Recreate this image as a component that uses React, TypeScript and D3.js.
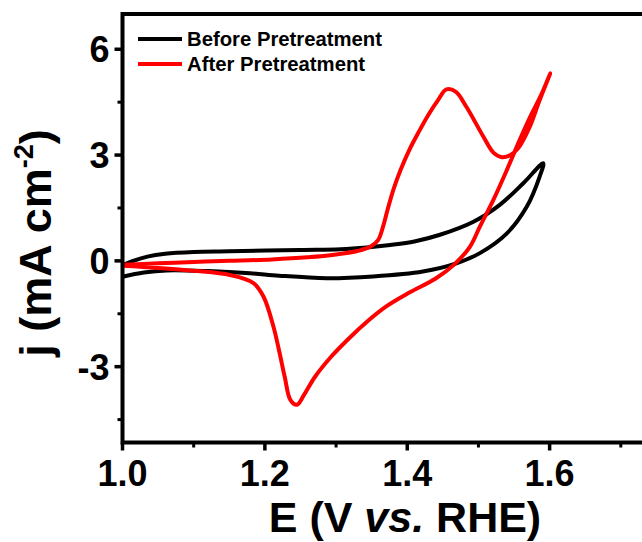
import * as d3 from "d3";

// cyclic voltammograms, forward scan then reverse scan (E in V vs RHE, j in mA cm-2)
const beforeE = [
  1.0, 1.015, 1.035, 1.06, 1.1, 1.15, 1.25, 1.306, 1.343, 1.376, 1.41, 1.446, 1.493, 1.53, 1.563, 1.591,
  1.586, 1.568, 1.54, 1.502, 1.469, 1.422, 1.352, 1.287, 1.22, 1.179, 1.12, 1.062, 1.03, 1.0,
];
const beforeJ = [
  -0.12, 0.0, 0.12, 0.2, 0.25, 0.27, 0.31, 0.33, 0.38, 0.45, 0.55, 0.74, 1.11, 1.59, 2.2, 2.77,
  2.39, 1.54, 0.78, 0.22, -0.07, -0.3, -0.44, -0.49, -0.42, -0.35, -0.29, -0.27, -0.33, -0.45,
];
const afterE = [
  1.0, 1.05, 1.1, 1.15, 1.21, 1.26, 1.3, 1.33, 1.348, 1.359, 1.366, 1.373, 1.381, 1.391, 1.403,
  1.416, 1.43, 1.443, 1.455, 1.468, 1.483, 1.507, 1.521, 1.533, 1.545, 1.556, 1.572,
  1.586, 1.601,
  1.588, 1.575, 1.558, 1.54, 1.521, 1.502, 1.488, 1.465, 1.44, 1.403, 1.37, 1.345, 1.318, 1.293,
  1.27, 1.255, 1.245, 1.236, 1.228, 1.22, 1.212, 1.198, 1.184, 1.151, 1.1, 1.05, 1.0,
];
const afterJ = [
  -0.11, -0.07, -0.03, 0.0, 0.04, 0.1, 0.18, 0.28, 0.4, 0.59, 0.97, 1.5, 2.05, 2.6, 3.15,
  3.65, 4.15, 4.55, 4.86, 4.8, 4.37, 3.52, 3.07, 2.94, 3.0, 3.2, 3.8,
  4.56, 5.32,
  4.7, 4.18, 3.43, 2.58, 1.73, 0.97, 0.4, -0.12, -0.5, -0.9, -1.3, -1.7, -2.2, -2.72,
  -3.3, -3.8, -4.08, -3.95, -3.3, -2.55, -1.86, -1.01, -0.63, -0.4, -0.28, -0.2, -0.14,
];

const xTicks = [1.0, 1.2, 1.4, 1.6];
const xMinor = [1.1, 1.3, 1.5, 1.7];
const yTicks = [6, 3, 0, -3];
const yMinor = [4.5, 1.5, -1.5, -4.5];
const seriesNames = ["Before Pretreatment", "After Pretreatment"];
const seriesColors = ["#000000", "#ff0000"];

const W = 642;
const H = 542;
const FONT = "'Liberation Sans', Arial, sans-serif";

export default function App() {
  const x = d3.scaleLinear().domain([1.0, 1.8]).range([122.5, 692]);
  const y = d3.scaleLinear().domain([-5.15, 7]).range([442.5, 14]);

  const line = d3
    .line<[number, number]>()
    .x((d) => x(d[0]))
    .y((d) => y(d[1]))
    .curve(d3.curveCatmullRom.alpha(0.5));

  const before = beforeE.map((e, i) => [e, beforeJ[i]] as [number, number]);
  const after = afterE.map((e, i) => [e, afterJ[i]] as [number, number]);

  const [x0, x1] = x.range();
  const [y0, y1] = y.range();

  return (
    <svg
      width={W}
      height={H}
      style={{ position: "absolute", left: 0, top: 0, background: "#fff" }}
      fontFamily={FONT}
    >
      {/* curves */}
      <path d={line(before) ?? ""} fill="none" stroke={seriesColors[0]} strokeWidth={4} strokeLinejoin="round" />
      <path d={line(after) ?? ""} fill="none" stroke={seriesColors[1]} strokeWidth={4} strokeLinejoin="round" />

      {/* frame */}
      <rect x={x0} y={y1} width={x1 - x0} height={y0 - y1} fill="none" stroke="#000" strokeWidth={4} />

      {/* y ticks */}
      {yTicks.map((t) => (
        <g key={"y" + t}>
          <line x1={x0 - 8} x2={x0} y1={y(t)} y2={y(t)} stroke="#000" strokeWidth={3.5} />
          <text
            x={x0 - 13}
            y={y(t) + 13}
            textAnchor="end"
            fontSize={36}
            fontWeight="bold"
          >
            {t}
          </text>
        </g>
      ))}
      {yMinor.map((t) => (
        <line key={"ym" + t} x1={x0 - 5} x2={x0} y1={y(t)} y2={y(t)} stroke="#000" strokeWidth={3} />
      ))}

      {/* x ticks */}
      {xTicks.map((t) => (
        <g key={"x" + t}>
          <line x1={x(t)} x2={x(t)} y1={y0} y2={y0 + 8} stroke="#000" strokeWidth={3.5} />
          <text x={x(t)} y={y0 + 43} textAnchor="middle" fontSize={36} fontWeight="bold">
            {t.toFixed(1)}
          </text>
        </g>
      ))}
      {xMinor.map((t) => (
        <line key={"xm" + t} x1={x(t)} x2={x(t)} y1={y0} y2={y0 + 5} stroke="#000" strokeWidth={3} />
      ))}

      {/* axis titles */}
      <text x={405} y={532} textAnchor="middle" fontSize={43} fontWeight="bold">
        E (V <tspan fontStyle="italic">vs.</tspan> RHE)
      </text>
      <text
        transform={`translate(51,243) rotate(-90)`}
        textAnchor="middle"
        fontSize={45}
        fontWeight="bold"
      >
        j (mA cm
        <tspan fontSize={27} dy={-18}>-2</tspan>
        <tspan dy={18}>)</tspan>
      </text>

      {/* legend */}
      {seriesNames.map((name, i) => (
        <g key={name}>
          <line
            x1={138}
            x2={182}
            y1={39 + i * 25}
            y2={39 + i * 25}
            stroke={seriesColors[i]}
            strokeWidth={4}
          />
          <text x={187} y={45.5 + i * 25} fontSize={20.3} fontWeight="bold">
            {name}
          </text>
        </g>
      ))}
    </svg>
  );
}
